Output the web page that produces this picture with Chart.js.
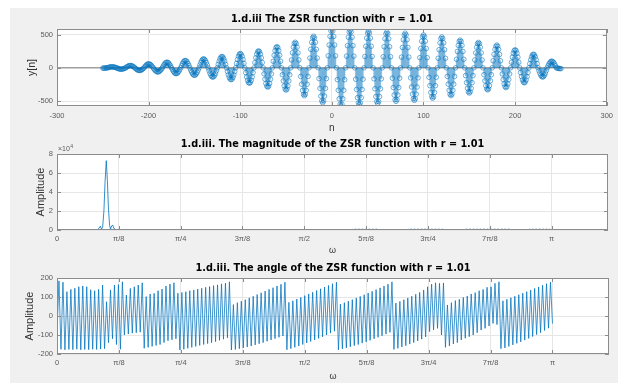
<!DOCTYPE html>
<html>
<head>
<meta charset="utf-8">
<title>ZSR function, r = 1.01</title>
<script src="https://cdn.jsdelivr.net/npm/chart.js@4.4.1/dist/chart.umd.min.js"></script>
<style>
  html, body { margin: 0; padding: 0; background: #f0f0f0; }
  #fig { position: relative; width: 618px; height: 383px; overflow: hidden; background: #ffffff; }
  #fig .panel { position: absolute; left: 10px; top: 8px; right: 0; bottom: 0; background: #f0f0f0; }
  #fig canvas { position: absolute; left: 0; top: 0; }
</style>
</head>
<body>
<div id="fig">
  <div class="panel"></div>
  <canvas id="zsrChart" width="618" height="383"></canvas>
  <canvas id="magChart" width="618" height="383"></canvas>
  <canvas id="angleChart" width="618" height="383"></canvas>
</div>
<script>
// y[n] for n = -250 ... 250 (one row per half period)
const nStart = -250;
const zsrValues = [
  -5, -5, -4, -3, -2,
  0, 5, 9, 12, 14, 15, 14, 12, 9, 5,
  0, -6, -12, -16, -19, -20, -19, -16, -12, -6,
  0, 11, 21, 28, 33, 35, 33, 28, 21, 11,
  0, -12, -24, -32, -38, -40, -38, -32, -24, -12,
  0, 19, 35, 49, 57, 60, 57, 49, 35, 19,
  0, -19, -36, -50, -59, -62, -59, -50, -36, -19,
  0, 26, 50, 69, 81, 85, 81, 69, 50, 26,
  0, -27, -52, -71, -84, -88, -84, -71, -52, -27,
  0, 34, 65, 89, 105, 110, 105, 89, 65, 34,
  0, -35, -66, -91, -107, -112, -107, -91, -66, -35,
  0, 42, 79, 109, 128, 135, 128, 109, 79, 42,
  0, -43, -82, -113, -133, -140, -133, -113, -82, -43,
  0, 53, 100, 138, 162, 170, 162, 138, 100, 53,
  0, -55, -105, -144, -169, -178, -169, -144, -105, -55,
  0, 66, 126, 174, 204, 215, 204, 174, 126, 66,
  0, -72, -136, -188, -221, -232, -221, -188, -136, -72,
  0, 79, 150, 206, 243, 255, 243, 206, 150, 79,
  0, -90, -171, -235, -276, -290, -276, -235, -171, -90,
  0, 99, 188, 259, 304, 320, 304, 259, 188, 99,
  0, -104, -197, -271, -319, -335, -319, -271, -197, -104,
  0, 119, 226, 311, 366, 385, 366, 311, 226, 119,
  0, -130, -247, -340, -399, -420, -399, -340, -247, -130,
  0, 147, 279, 384, 452, 475, 452, 384, 279, 147,
  0, -162, -309, -425, -499, -525, -499, -425, -309, -162,
  0, 181, 344, 473, 556, 585, 556, 473, 344, 181,
  0, -178, -338, -465, -547, -575, -547, -465, -338, -178,
  0, 176, 334, 460, 540, 568, 540, 460, 334, 176,
  0, -171, -326, -449, -528, -555, -528, -449, -326, -171,
  0, 171, 325, 447, 525, 552, 525, 447, 325, 171,
  0, -165, -315, -433, -509, -535, -509, -433, -315, -165,
  0, 167, 318, 437, 514, 540, 514, 437, 318, 167,
  0, -156, -297, -409, -480, -505, -480, -409, -297, -156,
  0, 161, 307, 422, 496, 522, 496, 422, 307, 161,
  0, -151, -288, -396, -466, -490, -466, -396, -288, -151,
  0, 153, 291, 400, 471, 495, 471, 400, 291, 153,
  0, -142, -269, -371, -436, -458, -436, -371, -269, -142,
  0, 144, 273, 376, 442, 465, 442, 376, 273, 144,
  0, -129, -246, -338, -398, -418, -398, -338, -246, -129,
  0, 129, 246, 338, 398, 418, 398, 338, 246, 129,
  0, -117, -223, -307, -361, -380, -361, -307, -223, -117,
  0, 118, 225, 310, 364, 383, 364, 310, 225, 118,
  0, -103, -195, -269, -316, -332, -316, -269, -195, -103,
  0, 106, 201, 277, 325, 342, 325, 277, 201, 106,
  0, -92, -175, -241, -283, -298, -283, -241, -175, -92,
  0, 84, 160, 220, 259, 272, 259, 220, 160, 84,
  0, -70, -132, -182, -214, -225, -214, -182, -132, -70,
  0, 63, 121, 166, 195, 205, 195, 166, 121, 63,
  0, -43, -81, -112, -131, -138, -131, -112, -81, -43,
  0, 31, 59, 81, 95, 100, 95, 81, 59, 31,
  0, -4, -7, -10, -11, -12
];
const zsrTicksY = [-500, 0, 500];

// |Y(w)|
const magOmega = [0, 0.22, 0.24, 0.255, 0.265, 0.275, 0.283, 0.29, 0.298, 0.305,
  0.313, 0.32, 0.327, 0.334, 0.34, 0.348, 0.355, 0.362, 0.368, 0.375,
  0.39, 0.40, 1.87, 1.88, 2.03, 2.04, 2.22, 2.23, 2.45, 2.46,
  2.59, 2.60, 2.88, 2.89, 2.99, 3.00, 3.13, 3.1416];
const magValue = [0, 0, 300, 0, 1500, 4000, 1000, 3000, 20000, 50000,
  73000, 52000, 22000, 5000, 1000, 4500, 5000, 1500, 1200, 0,
  400, 0, 0, 900, 900, 0, 0, 900, 900, 0,
  0, 900, 900, 0, 0, 900, 900, 0];

// angle of Y(w) in degrees, sampled every pi/250 from 0 to pi
const angleStep = Math.PI / 250;
const angleDeg = [
  -85, 185, -175, 178, -178, 128, -176, 140, -177, 146, -175, 154, -178, 158, -176, 154,
  -177, 138, -175, 133, -176, 140, -174, 163, -172, 75,
  -140, 137, -120, 163, -150, 165, -175, 180,
  -100, 110, -95, 145, -90, 154, -88, 163, -85, 175, -170, 102, -165, 116, -160, 119,
  -155, 133, -150, 142, -140, 158, -130, 168, -125, 175, -120,
  120, -179, 124, -175, 128, -170, 133, -165, 137, -160, 142, -155, 146, -150, 151,
  -145, 155, -140, 160, -135, 164, -128, 169, -122, 173, -115, 180,
  -179, 60, -176, 70, -172, 78, -168, 86, -163, 95, -158, 104, -152, 113, -146, 122,
  -140, 131, -133, 140, -126, 149, -119, 158, -112, 167, -105, 178,
  -178, 72, -172, 80, -165, 89, -158, 98, -150, 107, -142, 116, -134, 125, -126, 134,
  -118, 143, -110, 152, -100, 161, -90, 170, -80, 178,
  -178, 62, -173, 70, -168, 78, -162, 86, -156, 95, -150, 103, -143, 112, -136, 121,
  -128, 130, -120, 139, -112, 148, -104, 158, -95, 168, -86, 180,
  -176, 68, -170, 77, -163, 86, -156, 95, -148, 104, -140, 114, -131, 124, -122, 137,
  -110, 154, -82, 168, -74, 175, -65, 172, -100, 174,
  -165, 58, -158, 70, -147, 81, -140, 88, -126, 98, -117, 105, -109, 116, -100, 123,
  -88, 133, -74, 140, -65, 151, -53, 154, -39, 172, -45, 180,
  -172, 80, -168, 88, -160, 96, -152, 104, -144, 112, -136, 120, -127, 128, -118, 136,
  -108, 145, -98, 153, -88, 162, -76, 170, -64, 178, -40
];

const omegaTickLabels = ['0', 'π/8', 'π/4', '3π/8', 'π/2', '5π/8', '3π/4', '7π/8', 'π'];

const blue = '#0072bd';
const tickFont = { family: "'Liberation Sans', Arial, sans-serif", size: 7.5 };
const tickColor = '#5a5a5a';
const labelColor = '#333333';
const titleFont = { family: "'DejaVu Sans', sans-serif", size: 9.7, weight: 'bold', lineHeight: '12px' };

function labelFont(size) {
  return { family: "'Liberation Sans', Arial, sans-serif", size: size, lineHeight: '12px' };
}

// white axes background, box outline and inward tick marks
const axesBox = {
  id: 'axesBox',
  beforeDraw(chart) {
    const { ctx, chartArea: a } = chart;
    ctx.save();
    ctx.fillStyle = '#ffffff';
    ctx.fillRect(a.left, a.top, a.right - a.left, a.bottom - a.top);
    ctx.restore();
  },
  afterDatasetsDraw(chart) {
    const { ctx, chartArea: a, scales } = chart;
    ctx.save();
    ctx.strokeStyle = '#8c8c8c';
    ctx.lineWidth = 1;
    ctx.strokeRect(Math.round(a.left) + 0.5, Math.round(a.top) + 0.5,
      Math.round(a.right - a.left) - 1, Math.round(a.bottom - a.top) - 1);
    ctx.beginPath();
    scales.x.ticks.forEach(t => {
      const px = Math.round(scales.x.getPixelForValue(t.value)) + 0.5;
      ctx.moveTo(px, a.bottom); ctx.lineTo(px, a.bottom - 4);
      ctx.moveTo(px, a.top); ctx.lineTo(px, a.top + 4);
    });
    scales.y.ticks.forEach(t => {
      const py = Math.round(scales.y.getPixelForValue(t.value)) + 0.5;
      ctx.moveTo(a.left, py); ctx.lineTo(a.left + 4, py);
      ctx.moveTo(a.right, py); ctx.lineTo(a.right - 4, py);
    });
    ctx.stroke();
    ctx.restore();
  }
};

// the x10^4 exponent above the magnitude axis
const expLabel = {
  id: 'expLabel',
  afterDraw(chart) {
    const { ctx, chartArea: a } = chart;
    ctx.save();
    ctx.fillStyle = tickColor;
    ctx.font = "7px 'Liberation Sans', Arial, sans-serif";
    ctx.textBaseline = 'alphabetic';
    ctx.fillText('×10', a.left + 1, a.top - 3);
    const w = ctx.measureText('×10').width;
    ctx.font = "5px 'Liberation Sans', Arial, sans-serif";
    ctx.fillText('4', a.left + 1 + w + 0.5, a.top - 6);
    ctx.restore();
  }
};

function omegaAxis(height, padding) {
  return {
    type: 'linear', min: 0, max: 3.5, offset: false,
    grid: { color: '#e6e6e6', drawTicks: false },
    border: { display: false },
    afterBuildTicks: s => { s.ticks = omegaTickLabels.map((l, k) => ({ value: k * Math.PI / 8 })); },
    ticks: { padding: padding, font: tickFont, color: tickColor, maxRotation: 0, autoSkip: false,
      callback: (v, i) => omegaTickLabels[i] },
    title: { display: true, text: 'ω', font: labelFont(9), color: labelColor, padding: 0 },
    afterFit: s => { s.height = height; }
  };
}

function yAxis(min, max, titlePad, extra) {
  return Object.assign({
    min: min, max: max,
    grid: { color: '#e6e6e6', drawTicks: false },
    border: { display: false },
    ticks: { padding: 4, font: tickFont, color: tickColor },
    afterFit: s => { s.width = 37; }
  }, extra, {
    title: { display: true, text: extra.titleText, font: labelFont(extra.titleSize), color: labelColor,
      padding: { top: titlePad, bottom: 0 } }
  });
}

const commonPlugins = (text, padTop) => ({
  legend: { display: false },
  tooltip: { enabled: false },
  title: { display: true, text: text, fullSize: false, font: titleFont, color: '#000000',
    padding: { top: padTop, bottom: 4 } }
});

// 1) stem plot of y[n]
const zsrPoints = zsrValues.map((v, i) => ({ x: nStart + i, y: v }));
new Chart(document.getElementById('zsrChart'), {
  type: 'bar',
  data: {
    datasets: [
      { type: 'line', data: zsrPoints, showLine: false, pointRadius: 2.3, pointBorderWidth: 0.8,
        pointBackgroundColor: 'rgba(0,0,0,0)', pointBorderColor: 'rgba(0,114,189,0.7)' },
      { type: 'bar', data: zsrPoints, backgroundColor: 'rgba(0,114,189,0.4)', barThickness: 0.8,
        borderWidth: 0 },
      { type: 'line', data: [{ x: -300, y: 0 }, { x: 300, y: 0 }], borderColor: '#a0a0a0',
        borderWidth: 1.5, pointRadius: 0 }
    ]
  },
  options: {
    responsive: false, animation: false, events: [],
    layout: { padding: { top: 0, left: 20, right: 10, bottom: 249 } },
    plugins: commonPlugins('1.d.iii The ZSR function with r = 1.01', 13),
    scales: {
      x: {
        type: 'linear', min: -300, max: 300, offset: false,
        grid: { color: '#e6e6e6', drawTicks: false, offset: false },
        border: { display: false },
        ticks: { stepSize: 100, padding: 5, font: tickFont, color: tickColor, maxRotation: 0, autoSkip: false },
        title: { display: true, text: 'n', font: labelFont(10), color: labelColor, padding: 0 },
        afterFit: s => { s.height = 28; }
      },
      y: yAxis(-575, 585, 6, {
        titleText: 'y[n]', titleSize: 10.5,
        afterBuildTicks: s => { s.ticks = zsrTicksY.map(v => ({ value: v })); }
      })
    }
  },
  plugins: [axesBox]
});

// 2) magnitude
new Chart(document.getElementById('magChart'), {
  type: 'line',
  data: {
    datasets: [{
      data: magOmega.map((w, i) => ({ x: w, y: magValue[i] })),
      borderColor: blue, borderWidth: 0.8, pointRadius: 0,
      segment: { borderDash: ctx => ctx.p0.parsed.x > 1 ? [1.5, 2] : undefined }
    }]
  },
  options: {
    responsive: false, animation: false, events: [],
    layout: { padding: { top: 125, left: 20, right: 10, bottom: 126 } },
    plugins: commonPlugins('1.d.iii. The magnitude of the ZSR function with r = 1.01', 13),
    scales: {
      x: omegaAxis(27, 4),
      y: yAxis(0, 80000, 15, {
        titleText: 'Amplitude', titleSize: 11,
        ticks: { padding: 4, font: tickFont, color: tickColor, stepSize: 20000, callback: v => v / 10000 }
      })
    }
  },
  plugins: [axesBox, expLabel]
});

// 3) angle
new Chart(document.getElementById('angleChart'), {
  type: 'line',
  data: {
    datasets: [{
      data: angleDeg.map((v, i) => ({ x: i * angleStep, y: v })),
      borderColor: 'rgba(0,114,189,0.75)', borderWidth: 1, pointRadius: 0
    }]
  },
  options: {
    responsive: false, animation: false, events: [],
    layout: { padding: { top: 249, left: 20, right: 9, bottom: 0 } },
    plugins: commonPlugins('1.d.iii. The angle of the ZSR function with r = 1.01', 13),
    scales: {
      x: omegaAxis(29, 4),
      y: yAxis(-200, 200, 4.4, {
        titleText: 'Amplitude', titleSize: 11,
        ticks: { padding: 4, font: tickFont, color: tickColor, stepSize: 100 }
      })
    }
  },
  plugins: [axesBox]
});
</script>
</body>
</html>
